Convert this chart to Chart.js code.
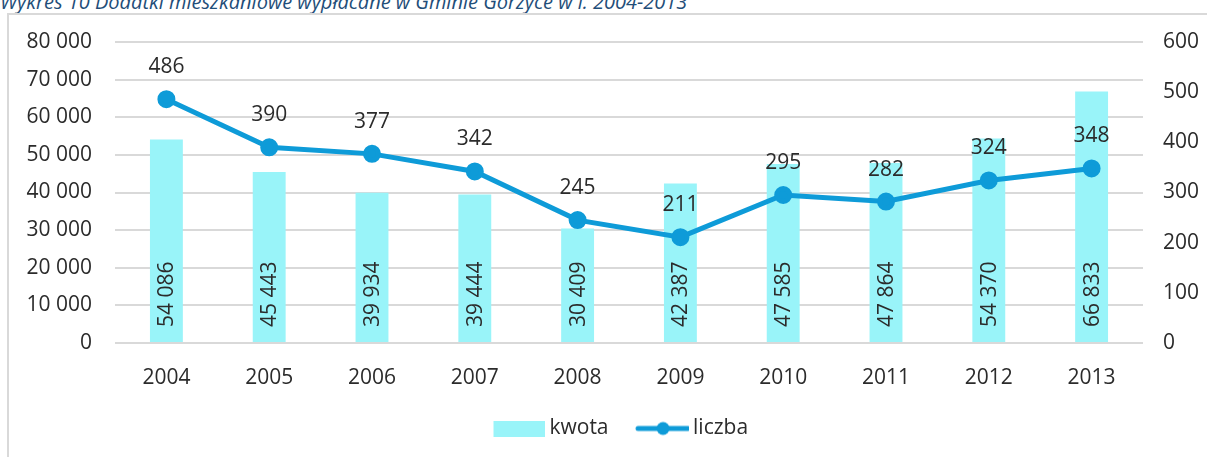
<!DOCTYPE html>
<html>
<head>
<meta charset="utf-8">
<script src="https://cdn.jsdelivr.net/npm/chart.js@4/dist/chart.umd.min.js"></script>
<style>
  html, body { margin: 0; padding: 0; background: #fff; overflow: hidden; }
  #wrap { position: relative; width: 1207px; height: 457px; }
  #title { position: absolute; left: 0; top: -12px; font: italic 20px "Open Sans", sans-serif; color: #1F4E79; white-space: nowrap; }
  #frame { position: absolute; left: 7px; top: 13px; width: 1300px; height: 500px; border: 2px solid #D9D9D9; box-sizing: border-box; }
  #canvas { position: absolute; left: 0; top: 0; }
</style>
</head>
<body>
<div id="wrap">
  <div id="title">Wykres 10 Dodatki mieszkaniowe wypłacane w Gminie Gorzyce w l. 2004-2013</div>
  <div id="frame"></div>
  <canvas id="canvas" width="1207" height="457"></canvas>
</div>
<script>
const years = ['2004', '2005', '2006', '2007', '2008', '2009', '2010', '2011', '2012', '2013']
const kwota = [54086, 45443, 39934, 39444, 30409, 42387, 47585, 47864, 54370, 66833]
const liczba = [486, 390, 377, 342, 245, 211, 295, 282, 324, 348]
const leftTicks = [0, 10000, 20000, 30000, 40000, 50000, 60000, 70000, 80000]
const rightTicks = [0, 100, 200, 300, 400, 500, 600]

const barColor = '#99F4F9'
const lineColor = '#0E9BD8'
const textColor = '#2B2B2B'
const font = '"Open Sans", sans-serif'

const fmt = v => String(v).replace(/\B(?=(\d{3})+(?!\d))/g, ' ')

// legend swatches: 77px image, the visible part sits in its right 52px
// so the text follows closely and items get more room between them
function swatch(kind) {
    const c = document.createElement('canvas')
    c.width = 77
    c.height = 16
    const g = c.getContext('2d')
    if (kind === 'bar') {
        g.fillStyle = barColor
        g.fillRect(25, 0, 52, 16)
    } else {
        g.strokeStyle = lineColor
        g.lineWidth = 5
        g.lineCap = 'round'
        g.beginPath()
        g.moveTo(26, 8)
        g.lineTo(76, 8)
        g.stroke()
        g.fillStyle = lineColor
        g.beginPath()
        g.arc(51, 8, 6.5, 0, Math.PI * 2)
        g.fill()
    }
    return c
}

const valueLabels = {
    id: 'valueLabels',
    afterLayout(chart) {
        // legend sits a bit right of centre in the original
        chart.legend.left += 8
        chart.legend.right += 8
    },
    afterDatasetsDraw(chart) {
        const ctx = chart.ctx
        ctx.save()
        ctx.fillStyle = textColor
        ctx.font = '21px ' + font
        // bar values, rotated, from the base upwards
        chart.getDatasetMeta(0).data.forEach((bar, i) => {
            ctx.save()
            ctx.translate(bar.x, bar.base - 15)
            ctx.rotate(-Math.PI / 2)
            ctx.textAlign = 'left'
            ctx.textBaseline = 'middle'
            ctx.fillText(fmt(kwota[i]), 0, 1)
            ctx.restore()
        })
        // line values above the points
        chart.getDatasetMeta(1).data.forEach((pt, i) => {
            ctx.textAlign = 'center'
            ctx.textBaseline = 'middle'
            ctx.fillText(String(liczba[i]), pt.x, pt.y - 32)
        })
        ctx.restore()
    }
}

new Chart(document.getElementById('canvas'), {
    type: 'bar',
    data: {
        labels: years,
        datasets: [
            {
                label: 'kwota',
                data: kwota,
                backgroundColor: barColor,
                yAxisID: 'y',
                barPercentage: 0.64,
                categoryPercentage: 0.5,
                order: 1,
            },
            {
                label: 'liczba',
                type: 'line',
                data: liczba,
                borderColor: lineColor,
                backgroundColor: lineColor,
                borderWidth: 5,
                pointRadius: 6.5,
                pointHoverRadius: 6.5,
                yAxisID: 'y1',
                order: 0,
            },
        ],
    },
    options: {
        responsive: false,
        animation: false,
        events: [],
        layout: { padding: { top: 42, bottom: 8, left: 0, right: 0 } },
        plugins: {
            tooltip: { enabled: false },
            legend: {
                position: 'bottom',
                labels: {
                    usePointStyle: true,
                    pointStyleWidth: 64,
                    boxHeight: 16,
                    padding: 10,
                    color: textColor,
                    font: { family: font, size: 21 },
                    generateLabels: () => [
                        { text: 'kwota', pointStyle: swatch('bar'), fontColor: textColor, datasetIndex: 0, lineWidth: 0 },
                        { text: 'liczba', pointStyle: swatch('line'), fontColor: textColor, datasetIndex: 1, lineWidth: 0 },
                    ],
                },
            },
        },
        scales: {
            x: {
                grid: { display: false },
                border: { display: false },
                ticks: { color: textColor, font: { family: font, size: 21 }, padding: 14 },
                afterFit: s => { s.height = 65 },
            },
            y: {
                position: 'left',
                min: leftTicks[0],
                max: leftTicks[leftTicks.length - 1],
                afterBuildTicks: s => { s.ticks = leftTicks.map(v => ({ value: v })) },
                grid: { color: '#D9D9D9', lineWidth: 2, drawTicks: false },
                border: { display: false },
                ticks: { color: textColor, font: { family: font, size: 21 }, padding: 23, callback: v => fmt(v) },
                afterFit: s => { s.width = 115 },
            },
            y1: {
                position: 'right',
                min: rightTicks[0],
                max: rightTicks[rightTicks.length - 1],
                afterBuildTicks: s => { s.ticks = rightTicks.map(v => ({ value: v })) },
                grid: { display: false, drawTicks: false },
                border: { display: false },
                ticks: { color: textColor, font: { family: font, size: 21 }, padding: 20 },
                afterFit: s => { s.width = 64 },
            },
        },
    },
    plugins: [valueLabels],
});
</script>
</body>
</html>
